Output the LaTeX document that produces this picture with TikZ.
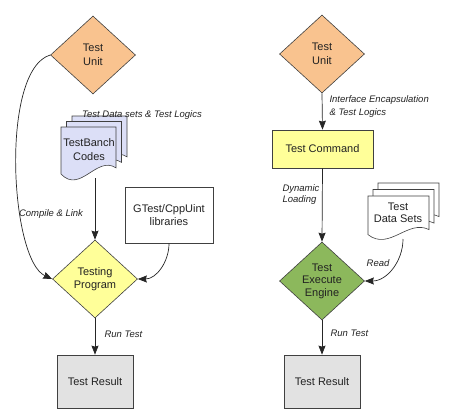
\documentclass[tikz,border=0pt]{standalone}
\usepackage{fontspec}
\setmainfont{Liberation Sans}
\usetikzlibrary{shapes.geometric,arrows.meta,shadows}
\definecolor{orng}{HTML}{F9C38F}
\definecolor{ylw}{HTML}{FFFF99}
\definecolor{grn}{HTML}{8CB85C}
\definecolor{lav}{HTML}{DCDFF7}
\definecolor{gry}{HTML}{E2E2E2}
\definecolor{edge}{HTML}{404040}
\definecolor{txt}{HTML}{222222}
\newcommand{\docpg}[5]{%
  \filldraw[docst, fill=#5] (#1,-#2) -- ++(#3,0) -- ({#1+#3},{-(#2+0.73*#4)})
    .. controls ({#1+0.65*#3},{-(#2+0.5*#4)}) and ({#1+0.35*#3},{-(#2+1.2*#4)}) ..
    ({#1},{-(#2+0.84*#4)}) -- cycle;}
\begin{document}
\begin{tikzpicture}[x=1pt,y=1pt,
  dia/.style={diamond, draw=edge, line width=0.6pt, minimum width=85pt, minimum height=78pt, inner sep=0pt},
  box/.style={rectangle, draw=edge, line width=0.7pt, inner sep=0pt,
    drop shadow={shadow xshift=1.2pt, shadow yshift=-1.2pt, opacity=0.6, fill=black!60}},
  txtn/.style={font=\fontsize{11}{13.5}\selectfont, text=txt, align=center},
  lbl/.style={font=\fontsize{9.5}{12.5}\selectfont\itshape, text=txt},
  arr/.style={-{Stealth[length=9pt,width=7pt,inset=1pt]}, line width=0.7pt, draw=black!85},
  docst/.style={draw=edge, line width=0.6pt}
]
\useasboundingbox (0,0) rectangle (449,-418);

% ---------- left flow ----------
\node[dia, fill=orng] (tuL) at (93,-55) {};
\node[txtn] (tuLt) at (tuL) {Test\\Unit};

\docpg{72}{116}{55}{56}{lav}
\docpg{66.5}{121.5}{55}{56}{lav}
\docpg{61}{127}{55}{56}{lav}
\node[txtn] (tbc) at (89,-149.5) {TestBanch\\Codes};
\coordinate (tbb) at (95,-178);
\node[lbl] (tdl) at (142,-115) {Test Data sets \& Test Logics};

\node[box, fill=white, minimum width=88pt, minimum height=56pt, txtn] (gt) at (169,-215) {GTest/CppUint\\libraries};

\node[dia, fill=ylw] (tp) at (95,-279) {};
\node[txtn, font=\fontsize{11}{13}\selectfont] (tpt) at (tp) {Testing\\Program};

\node[box, fill=gry, minimum width=76pt, minimum height=53pt, txtn] (trL) at (95,-381.5) {Test Result};

\draw[arr] (tuL.west) .. controls (0,-70) and (10,-260) .. (tp.west);
\node[lbl] (cl) at (51,-214) {Compile \& Link};
\draw[arr] (tbb) -- (tp.north);
\draw[arr] (gt.south) to[out=-90,in=0] (tp.east);
\draw[arr] (tp.south) -- (trL.north);
\node[lbl, anchor=west] (rtl) at (101,-334) {Run Test};

% ---------- right flow ----------
\node[dia, fill=orng] (tuR) at (322,-54) {};
\node[txtn] (tuRt) at (tuR) {Test\\Unit};

\node[box, fill=ylw, minimum width=101pt, minimum height=38pt, txtn] (tc) at (322.5,-149) {Test Command};

\docpg{378}{183}{61}{46}{white}
\docpg{373}{189.5}{61}{46}{white}
\docpg{368}{196}{61}{46}{white}
\node[txtn, font=\fontsize{11}{12.5}\selectfont] (tds) at (398,-213) {Test\\Data Sets};
\coordinate (dsb) at (403,-239);

\node[dia, fill=grn] (te) at (322,-281) {};
\node[txtn, font=\fontsize{11}{12.5}\selectfont] (tet) at (te) {Test\\Execute\\Engine};

\node[box, fill=gry, minimum width=76pt, minimum height=53pt, txtn] (trR) at (322,-381.5) {Test Result};

\draw[arr] (tuR.south) -- (tc.north);
\node[lbl, anchor=west, align=left] (iel) at (326,-106.5) {Interface Encapsulation\\\& Test Logics};
\draw[arr] (tc.south) -- (te.north);
\node[lbl, anchor=west, align=left, font=\fontsize{9.5}{11.5}\selectfont\itshape] (dll) at (279,-194.5) {Dynamic\\Loading};
\draw[arr] (dsb) to[out=-90,in=0] (te.east);
\node[lbl] (rdl) at (378,-263) {Read};
\draw[arr] (te.south) -- (trR.north);
\node[lbl, anchor=west] (rtr) at (327,-333) {Run Test};
\end{tikzpicture}
\end{document}
